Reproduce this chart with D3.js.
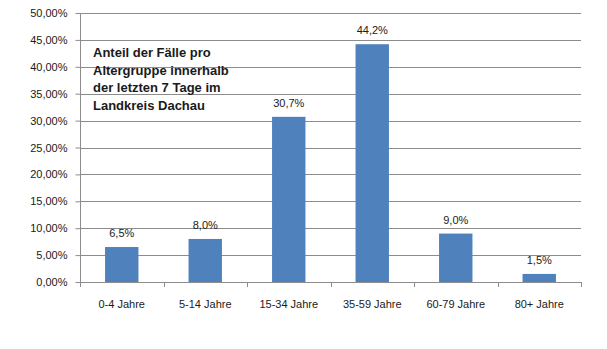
<!DOCTYPE html>
<html>
<head>
<meta charset="utf-8">
<script src="https://cdn.jsdelivr.net/npm/d3@7/dist/d3.min.js"></script>
<style>
  html, body { margin: 0; padding: 0; background: #fff; }
  svg { display: block; font-family: "Liberation Sans", Arial, sans-serif; }
</style>
</head>
<body>
<svg id="chart" width="607" height="349"></svg>
<script>
// Age groups and their share of cases (percent)
const categories = ["0-4 Jahre", "5-14 Jahre", "15-34 Jahre", "35-59 Jahre", "60-79 Jahre", "80+ Jahre"];
const shares = [6.5, 8.0, 30.7, 44.2, 9.0, 1.5];
const yTicks = [0, 5, 10, 15, 20, 25, 30, 35, 40, 45, 50];
const titleLines = ["Anteil der Fälle pro", "Altergruppe innerhalb", "der letzten 7 Tage im", "Landkreis Dachau"];

const svg = d3.select("#chart");
const plotLeft = 80, plotRight = 581, plotTop = 13, plotBottom = 282;

const x = d3.scaleBand().domain(categories).range([plotLeft, plotRight]).paddingInner(0.6).paddingOuter(0.3);
const xOuter = d3.scaleBand().domain(categories).range([plotLeft, plotRight]);
const y = d3.scaleLinear().domain([0, 50]).range([plotBottom, plotTop]);

const fmtAxis = v => d3.format(".2f")(v).replace(".", ",") + "%";
const fmtLabel = v => d3.format(".1f")(v).replace(".", ",") + "%";

// horizontal gridlines
svg.append("g")
  .selectAll("line")
  .data(yTicks.filter(d => d > 0))
  .join("line")
  .attr("x1", plotLeft).attr("x2", plotRight)
  .attr("y1", d => Math.round(y(d)) + 0.5).attr("y2", d => Math.round(y(d)) + 0.5)
  .attr("stroke", "#8c8c8c").attr("stroke-width", 1);

// y axis
const yAxis = svg.append("g")
  .attr("transform", `translate(${plotLeft + 0.5},0)`)
  .call(d3.axisLeft(y).tickValues(yTicks).tickFormat(fmtAxis).tickSize(5).tickPadding(8));
yAxis.select(".domain").attr("stroke", "#8c8c8c").attr("d", `M0,${plotTop}V${plotBottom}`);
yAxis.selectAll(".tick line").attr("stroke", "#8c8c8c");
yAxis.selectAll(".tick text").attr("font-size", 11).attr("fill", "#1a1a1a")
  .attr("font-family", "Liberation Sans, Arial, sans-serif");

// bars
svg.append("g")
  .selectAll("rect")
  .data(categories)
  .join("rect")
  .attr("x", d => x(d))
  .attr("width", x.bandwidth())
  .attr("y", (d, i) => y(shares[i]))
  .attr("height", (d, i) => plotBottom - y(shares[i]))
  .attr("fill", "#4f81bd");

// x axis with tick marks at the category boundaries
const xg = svg.append("g");
xg.append("line")
  .attr("x1", plotLeft).attr("x2", plotRight)
  .attr("y1", plotBottom + 0.5).attr("y2", plotBottom + 0.5)
  .attr("stroke", "#8c8c8c");
const bounds = categories.map(c => xOuter(c)).concat([plotRight]);
xg.selectAll("line.tk")
  .data(bounds)
  .join("line")
  .attr("class", "tk")
  .attr("x1", d => Math.round(d) + 0.5).attr("x2", d => Math.round(d) + 0.5)
  .attr("y1", plotBottom).attr("y2", plotBottom + 5)
  .attr("stroke", "#8c8c8c");
xg.selectAll("text")
  .data(categories)
  .join("text")
  .attr("x", d => xOuter(d) + xOuter.bandwidth() / 2)
  .attr("y", 308)
  .attr("text-anchor", "middle")
  .attr("font-size", 11)
  .attr("fill", "#1a1a1a")
  .text(d => d);

// value labels
svg.append("g")
  .selectAll("text")
  .data(categories)
  .join("text")
  .attr("x", d => x(d) + x.bandwidth() / 2)
  .attr("y", (d, i) => y(shares[i]) - 10)
  .attr("text-anchor", "middle")
  .attr("font-size", 11)
  .attr("fill", "#1a1a1a")
  .text((d, i) => fmtLabel(shares[i]));

// chart title inside the plot
svg.append("g")
  .selectAll("text")
  .data(titleLines)
  .join("text")
  .attr("x", 93)
  .attr("y", (d, i) => 57 + i * 17.7)
  .attr("font-size", 13)
  .attr("font-weight", "bold")
  .attr("fill", "#1a1a1a")
  .text(d => d);
</script>
</body>
</html>
